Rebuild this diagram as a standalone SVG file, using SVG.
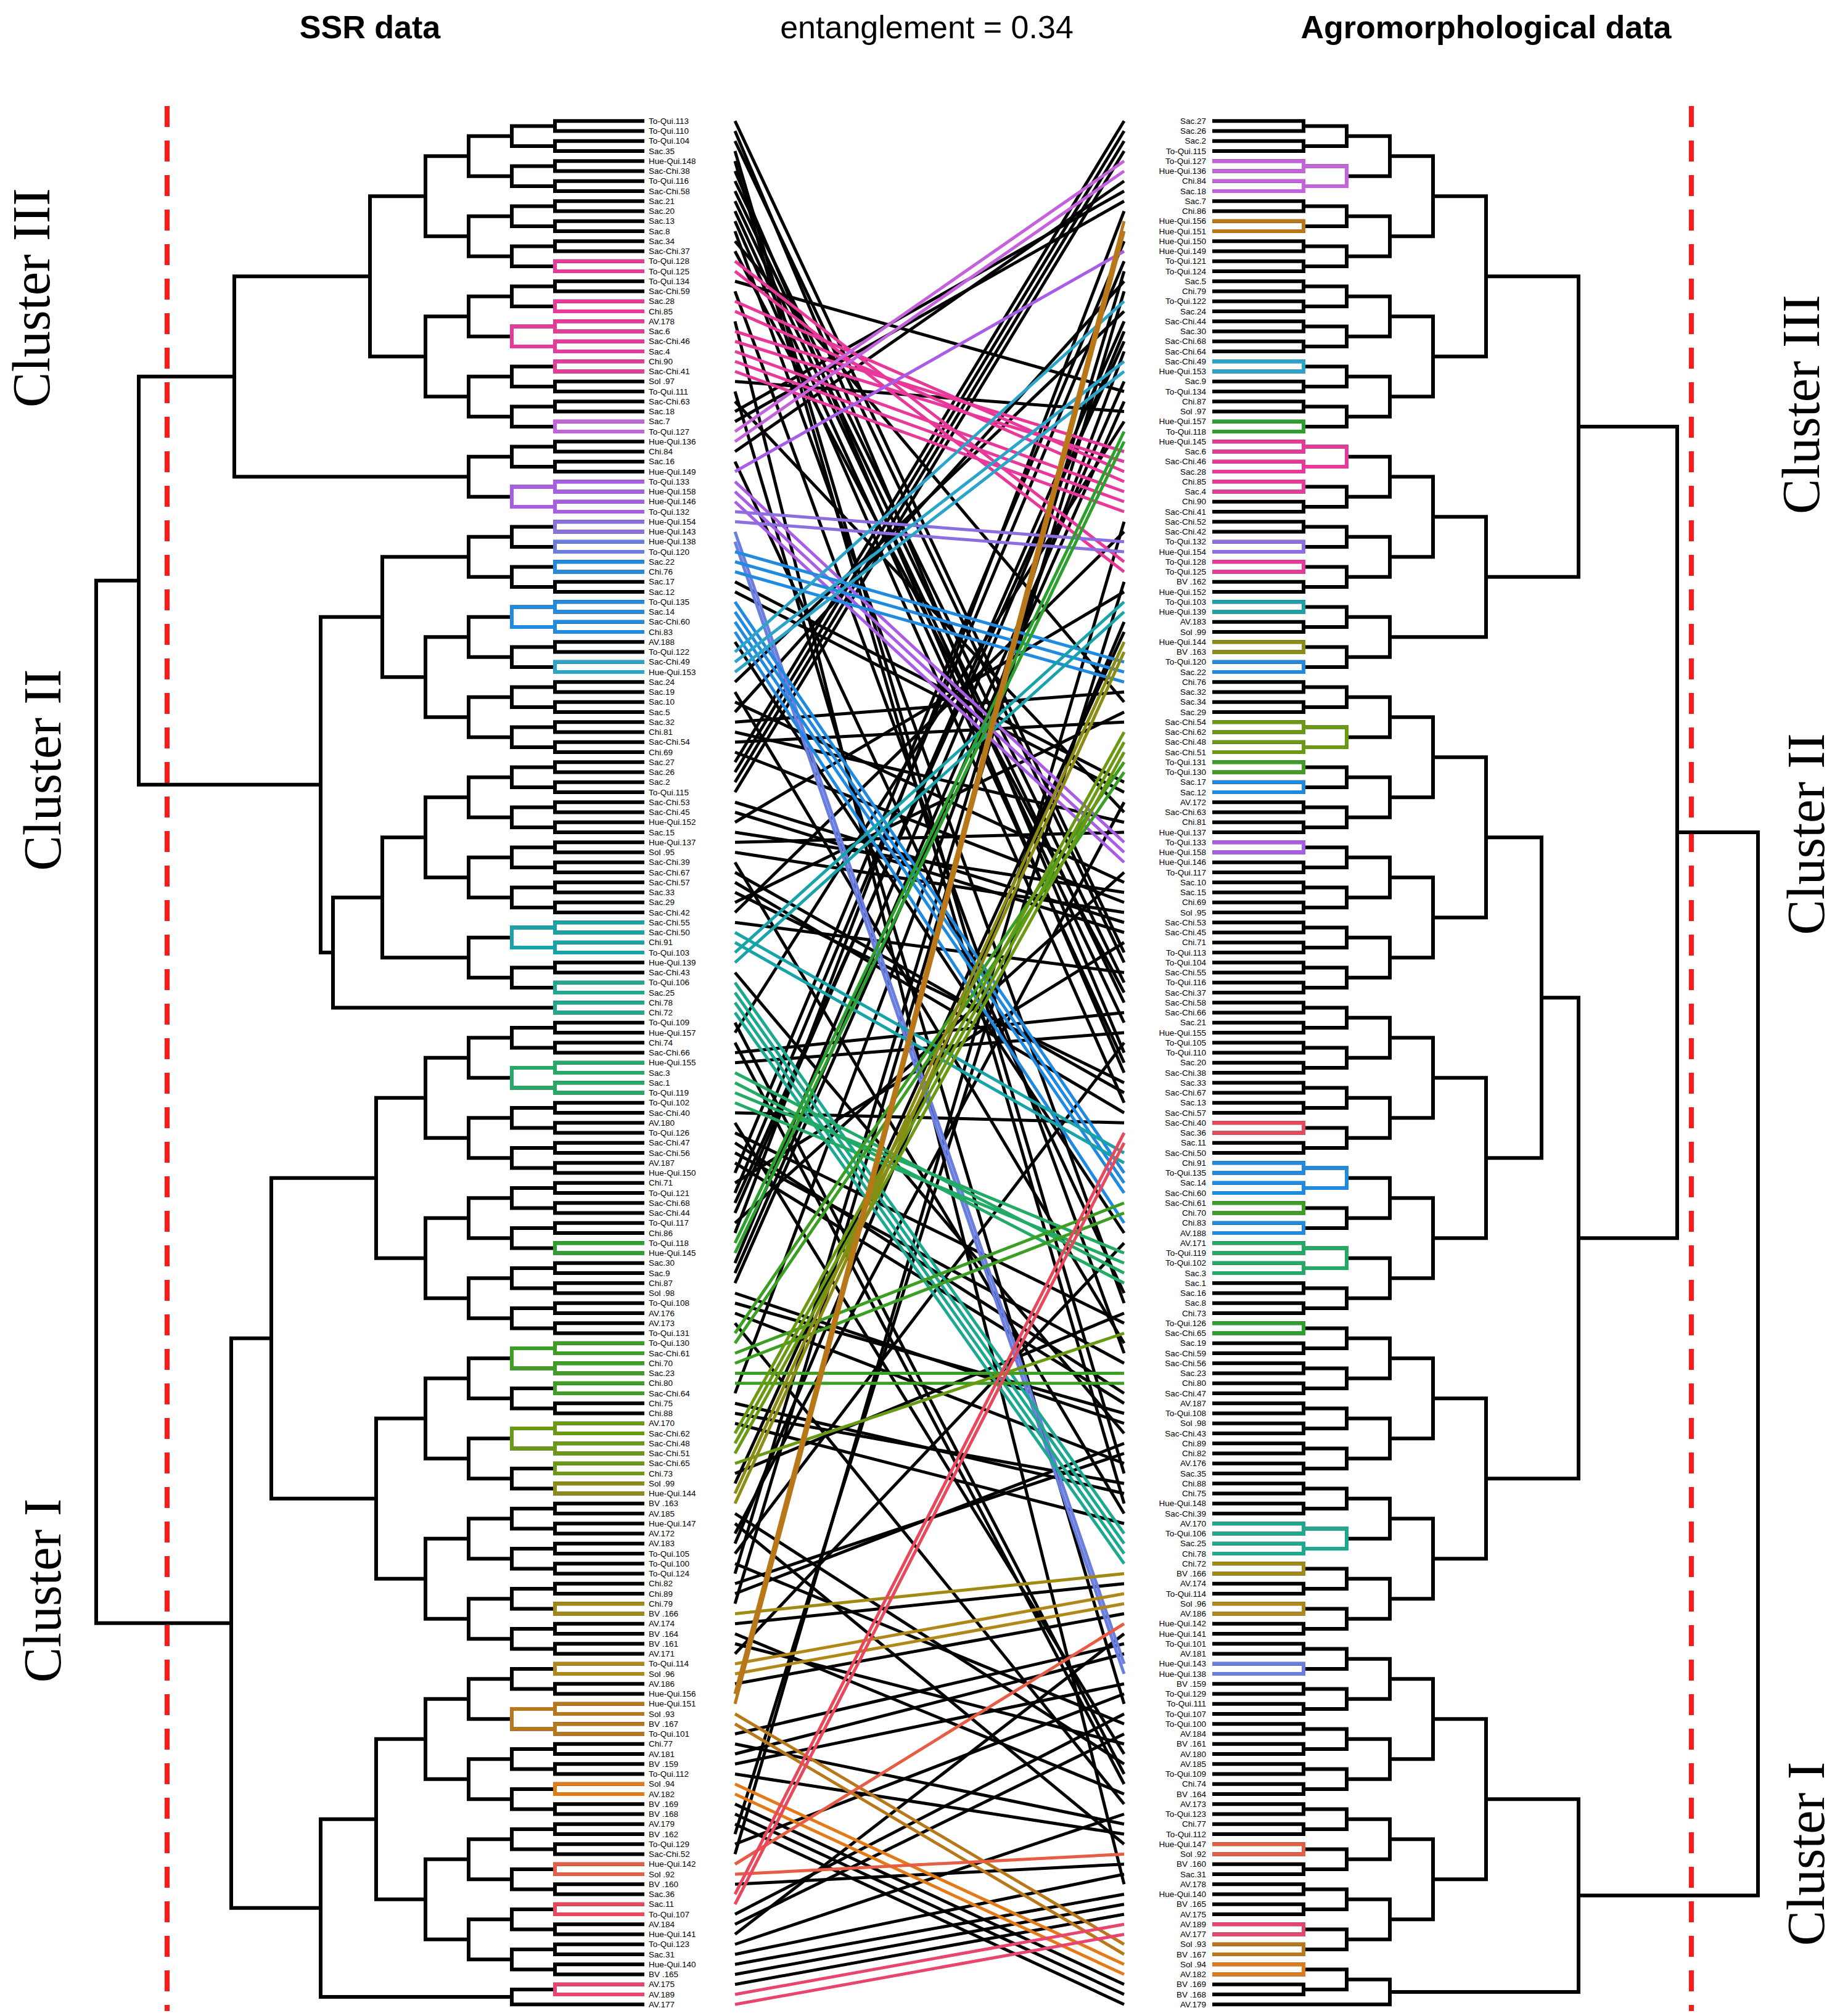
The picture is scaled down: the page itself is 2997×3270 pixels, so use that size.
<svg xmlns="http://www.w3.org/2000/svg" xmlns:xlink="http://www.w3.org/1999/xlink" width="2997" height="3270" viewBox="0 0 2997 3270">
<style>
.tree{stroke:#000;fill:none;stroke-width:6}
path{fill:none}
.lab{font-family:"Liberation Sans",Arial,sans-serif;font-size:13.5px;fill:#000}
.ttl{font-family:"Liberation Sans",Arial,sans-serif;font-size:52px;fill:#000;text-anchor:middle}
.cl{font-family:"Liberation Serif","Times New Roman",serif;font-size:86px;fill:#000;text-anchor:middle}
.dash{stroke:#ff1a1a;stroke-width:8;stroke-dasharray:34 22}
.con line{stroke-width:5;vector-effect:non-scaling-stroke}
.k{stroke:#000}
.a{stroke:#e8389a}.b{stroke:#c461dc}.c{stroke:#a95ce6}.d{stroke:#8b6fe0}.e{stroke:#6a7ee0}.f{stroke:#1f8ae0}.g{stroke:#2aa4c8}.h{stroke:#17a3a8}.i{stroke:#1ea890}.j{stroke:#22aa66}.l{stroke:#2ca02c}.m{stroke:#3c9e22}.n{stroke:#6a9a14}.o{stroke:#8c8c14}.p{stroke:#a08a14}.q{stroke:#b0881a}.r{stroke:#b8781a}.s{stroke:#e27a18}.t{stroke:#e65c44}.u{stroke:#e8485c}.v{stroke:#e84470}
</style>
<defs>
<g id="lP"><path d="M1045 0H900V16.25H1045"/></g>
<g id="lQ"><use href="#lP"/><use href="#lP" y="32.5"/><path d="M900 8.125H830V40.625H900"/></g>
<g id="lR"><use href="#lQ"/><use href="#lQ" y="65"/><path d="M830 24.375H760V89.375H830"/></g>
<g id="lS"><use href="#lR"/><use href="#lR" y="130"/><path d="M760 56.875H690V186.875H760"/></g>
<g id="rP"><path d="M1966 0H2114V16.25H1966"/></g>
<g id="rQ"><use href="#rP"/><use href="#rP" y="32.5"/><path d="M2114 8.125H2184V40.625H2114"/></g>
<g id="rR"><use href="#rQ"/><use href="#rQ" y="65"/><path d="M2184 24.375H2254V89.375H2184"/></g>
<g id="rS"><use href="#rR"/><use href="#rR" y="130"/><path d="M2254 56.875H2324V186.875H2254"/></g>
</defs>
<rect width="2997" height="3270" fill="#fff"/>
<text class="ttl" x="600" y="62" font-weight="bold">SSR data</text>
<text class="ttl" x="1503" y="62">entanglement = 0.34</text>
<text class="ttl" x="2410" y="62" font-weight="bold">Agromorphological data</text>
<line class="dash" x1="271" y1="172" x2="271" y2="3262"/>
<line class="dash" x1="2743" y1="172" x2="2743" y2="3262"/>
<text class="cl" transform="translate(80,483) rotate(-90)">Cluster III</text>
<text class="cl" transform="translate(98,1249) rotate(-90)">Cluster II</text>
<text class="cl" transform="translate(98,2580) rotate(-90)">Cluster I</text>
<text class="cl" transform="translate(2950,656) rotate(-90)">Cluster III</text>
<text class="cl" transform="translate(2958,1353) rotate(-90)">Cluster II</text>
<text class="cl" transform="translate(2958,3007) rotate(-90)">Cluster I</text>

<g id="left-tree" class="tree">
<use href="#lS" y="196.25"/><use href="#lS" y="456.25"/><use href="#lR" y="716.25"/>
<use href="#lR" y="846.25"/><use href="#lS" y="976.25"/><use href="#lS" y="1236.25"/><use href="#lR" y="1496.25"/><use href="#lP" y="1626.25"/>
<use href="#lS" y="1658.75"/><use href="#lS" y="1918.75"/><use href="#lS" y="2178.75"/><use href="#lS" y="2438.75"/><use href="#lS" y="2698.75"/><use href="#lS" y="2958.75"/><use href="#lP" y="3218.75"/>
<path d="M1045 3251.25H900M900 3226.875H830V3251.25H900"/>
<path d="M690 318.125H600V578.125H690"/>
<path d="M600 448.125H380V773.125H760"/>
<path d="M760 903.125H620V1098.125H690"/>
<path d="M690 1358.125H620V1553.125H760"/>
<path d="M620 1455.625H540V1634.375H900"/>
<path d="M620 1000.625H520V1545H540"/>
<path d="M380 610.625H225V1272.8H520"/>
<path d="M690 1780.625H610V2040.625H690"/>
<path d="M690 2300.625H610V2560.625H690"/>
<path d="M610 1910.625H440V2430.625H610"/>
<path d="M690 2820.625H610V3080.625H690"/>
<path d="M610 2950.625H520V3239.06H830"/>
<path d="M440 2170.625H375V3094.8H520"/>
<path d="M225 941.7H156V2632.7H375"/>
<use class="a" href="#lP" y="423.75"/><use class="a" href="#lP" y="488.75"/><use class="a" href="#lQ" y="521.25"/><use class="a" href="#lP" y="586.25"/>
<use class="b" href="#lP" y="683.75"/><use class="c" href="#lQ" y="781.25"/>
<use class="d" href="#lP" y="846.25"/><use class="e" href="#lP" y="878.75"/>
<use class="f" href="#lP" y="911.25"/><use class="f" href="#lQ" y="976.25"/><use class="g" href="#lP" y="1073.75"/>
<use class="h" href="#lQ" y="1496.25"/><use class="i" href="#lP" y="1593.75"/><use class="i" href="#lP" y="1626.25"/>
<use class="j" href="#lQ" y="1723.75"/><use class="l" href="#lP" y="2016.25"/>
<use class="m" href="#lQ" y="2178.75"/><use class="m" href="#lP" y="2243.75"/>
<use class="n" href="#lQ" y="2308.75"/><use class="n" href="#lP" y="2373.75"/><use class="o" href="#lP" y="2406.25"/>
<use class="p" href="#lP" y="2601.25"/><use class="q" href="#lP" y="2698.75"/><use class="r" href="#lQ" y="2763.75"/>
<use class="s" href="#lP" y="2893.75"/><use class="t" href="#lP" y="3023.75"/><use class="u" href="#lP" y="3088.75"/>
<use class="v" href="#lP" y="3218.75"/>
</g>

<g id="right-tree" class="tree">
<use href="#rS" y="196.25"/><use href="#rS" y="456.25"/><use href="#rS" y="716.25"/><use href="#rR" y="976.25"/>
<use href="#rS" y="1106.25"/><use href="#rS" y="1366.25"/><use href="#rS" y="1626.25"/><use href="#rS" y="1886.25"/><use href="#rS" y="2146.25"/><use href="#rS" y="2406.25"/>
<use href="#rS" y="2666.25"/><use href="#rS" y="2926.25"/><use href="#rQ" y="3186.25"/>
<path d="M2324 318.125H2410V578.125H2324"/>
<path d="M2324 838.125H2410V1033.125H2254"/>
<path d="M2410 448.125H2560V935.625H2410"/>
<path d="M2324 1228.125H2410V1488.125H2324"/>
<path d="M2324 1748.125H2410V2008.125H2324"/>
<path d="M2324 2268.125H2410V2528.125H2324"/>
<path d="M2410 1358.125H2500V1878.125H2410"/>
<path d="M2500 1618.125H2560V2398.125H2410"/>
<path d="M2560 691.875H2720V2008.125H2560"/>
<path d="M2184 3210.625H2254V3251.25H1966"/>
<path d="M2324 2788.125H2410V3048.125H2324"/>
<path d="M2410 2918.125H2560V3230.94H2254"/>
<path d="M2720 1350H2851V3074.5H2560"/>
<use class="b" href="#rQ" y="261.25"/><use class="r" href="#rP" y="358.75"/><use class="g" href="#rP" y="586.25"/><use class="l" href="#rP" y="683.75"/>
<use class="a" href="#rQ" y="716.25"/><use class="a" href="#rP" y="781.25"/><use class="d" href="#rP" y="878.75"/><use class="a" href="#rP" y="911.25"/>
<use class="h" href="#rP" y="976.25"/><use class="o" href="#rP" y="1041.25"/><use class="f" href="#rP" y="1073.75"/>
<use class="n" href="#rQ" y="1171.25"/><use class="m" href="#rP" y="1236.25"/><use class="f" href="#rP" y="1268.75"/><use class="c" href="#rP" y="1366.25"/>
<use class="u" href="#rP" y="1821.25"/><use class="f" href="#rQ" y="1886.25"/><use class="m" href="#rP" y="1951.25"/><use class="f" href="#rP" y="1983.75"/>
<use class="j" href="#rQ" y="2016.25"/><use class="l" href="#rP" y="2146.25"/><use class="i" href="#rQ" y="2471.25"/><use class="p" href="#rP" y="2536.25"/><use class="q" href="#rP" y="2601.25"/>
<use class="e" href="#rP" y="2698.75"/><use class="t" href="#rP" y="2991.25"/><use class="v" href="#rP" y="3121.25"/><use class="r" href="#rP" y="3153.75"/><use class="s" href="#rP" y="3186.25"/>
</g>

<g id="left-labels"><text class="lab" x="1052" y="200.75"><tspan x="1052" dy="0">To-Qui.113</tspan><tspan x="1052" dy="16.25">To-Qui.110</tspan><tspan x="1052" dy="16.25">To-Qui.104</tspan><tspan x="1052" dy="16.25">Sac.35</tspan><tspan x="1052" dy="16.25">Hue-Qui.148</tspan><tspan x="1052" dy="16.25">Sac-Chi.38</tspan><tspan x="1052" dy="16.25">To-Qui.116</tspan><tspan x="1052" dy="16.25">Sac-Chi.58</tspan><tspan x="1052" dy="16.25">Sac.21</tspan><tspan x="1052" dy="16.25">Sac.20</tspan><tspan x="1052" dy="16.25">Sac.13</tspan><tspan x="1052" dy="16.25">Sac.8</tspan><tspan x="1052" dy="16.25">Sac.34</tspan><tspan x="1052" dy="16.25">Sac-Chi.37</tspan><tspan x="1052" dy="16.25">To-Qui.128</tspan><tspan x="1052" dy="16.25">To-Qui.125</tspan><tspan x="1052" dy="16.25">To-Qui.134</tspan><tspan x="1052" dy="16.25">Sac-Chi.59</tspan><tspan x="1052" dy="16.25">Sac.28</tspan><tspan x="1052" dy="16.25">Chi.85</tspan><tspan x="1052" dy="16.25">AV.178</tspan><tspan x="1052" dy="16.25">Sac.6</tspan><tspan x="1052" dy="16.25">Sac-Chi.46</tspan><tspan x="1052" dy="16.25">Sac.4</tspan><tspan x="1052" dy="16.25">Chi.90</tspan><tspan x="1052" dy="16.25">Sac-Chi.41</tspan><tspan x="1052" dy="16.25">Sol .97</tspan><tspan x="1052" dy="16.25">To-Qui.111</tspan><tspan x="1052" dy="16.25">Sac-Chi.63</tspan><tspan x="1052" dy="16.25">Sac.18</tspan><tspan x="1052" dy="16.25">Sac.7</tspan><tspan x="1052" dy="16.25">To-Qui.127</tspan><tspan x="1052" dy="16.25">Hue-Qui.136</tspan><tspan x="1052" dy="16.25">Chi.84</tspan><tspan x="1052" dy="16.25">Sac.16</tspan><tspan x="1052" dy="16.25">Hue-Qui.149</tspan><tspan x="1052" dy="16.25">To-Qui.133</tspan><tspan x="1052" dy="16.25">Hue-Qui.158</tspan><tspan x="1052" dy="16.25">Hue-Qui.146</tspan><tspan x="1052" dy="16.25">To-Qui.132</tspan><tspan x="1052" dy="16.25">Hue-Qui.154</tspan><tspan x="1052" dy="16.25">Hue-Qui.143</tspan><tspan x="1052" dy="16.25">Hue-Qui.138</tspan><tspan x="1052" dy="16.25">To-Qui.120</tspan><tspan x="1052" dy="16.25">Sac.22</tspan><tspan x="1052" dy="16.25">Chi.76</tspan><tspan x="1052" dy="16.25">Sac.17</tspan><tspan x="1052" dy="16.25">Sac.12</tspan><tspan x="1052" dy="16.25">To-Qui.135</tspan><tspan x="1052" dy="16.25">Sac.14</tspan><tspan x="1052" dy="16.25">Sac-Chi.60</tspan><tspan x="1052" dy="16.25">Chi.83</tspan><tspan x="1052" dy="16.25">AV.188</tspan><tspan x="1052" dy="16.25">To-Qui.122</tspan><tspan x="1052" dy="16.25">Sac-Chi.49</tspan><tspan x="1052" dy="16.25">Hue-Qui.153</tspan><tspan x="1052" dy="16.25">Sac.24</tspan><tspan x="1052" dy="16.25">Sac.19</tspan><tspan x="1052" dy="16.25">Sac.10</tspan><tspan x="1052" dy="16.25">Sac.5</tspan><tspan x="1052" dy="16.25">Sac.32</tspan><tspan x="1052" dy="16.25">Chi.81</tspan><tspan x="1052" dy="16.25">Sac-Chi.54</tspan><tspan x="1052" dy="16.25">Chi.69</tspan><tspan x="1052" dy="16.25">Sac.27</tspan><tspan x="1052" dy="16.25">Sac.26</tspan><tspan x="1052" dy="16.25">Sac.2</tspan><tspan x="1052" dy="16.25">To-Qui.115</tspan><tspan x="1052" dy="16.25">Sac-Chi.53</tspan><tspan x="1052" dy="16.25">Sac-Chi.45</tspan><tspan x="1052" dy="16.25">Hue-Qui.152</tspan><tspan x="1052" dy="16.25">Sac.15</tspan><tspan x="1052" dy="16.25">Hue-Qui.137</tspan><tspan x="1052" dy="16.25">Sol .95</tspan><tspan x="1052" dy="16.25">Sac-Chi.39</tspan><tspan x="1052" dy="16.25">Sac-Chi.67</tspan><tspan x="1052" dy="16.25">Sac-Chi.57</tspan><tspan x="1052" dy="16.25">Sac.33</tspan><tspan x="1052" dy="16.25">Sac.29</tspan><tspan x="1052" dy="16.25">Sac-Chi.42</tspan><tspan x="1052" dy="16.25">Sac-Chi.55</tspan><tspan x="1052" dy="16.25">Sac-Chi.50</tspan><tspan x="1052" dy="16.25">Chi.91</tspan><tspan x="1052" dy="16.25">To-Qui.103</tspan><tspan x="1052" dy="16.25">Hue-Qui.139</tspan><tspan x="1052" dy="16.25">Sac-Chi.43</tspan><tspan x="1052" dy="16.25">To-Qui.106</tspan><tspan x="1052" dy="16.25">Sac.25</tspan><tspan x="1052" dy="16.25">Chi.78</tspan><tspan x="1052" dy="16.25">Chi.72</tspan><tspan x="1052" dy="16.25">To-Qui.109</tspan><tspan x="1052" dy="16.25">Hue-Qui.157</tspan><tspan x="1052" dy="16.25">Chi.74</tspan><tspan x="1052" dy="16.25">Sac-Chi.66</tspan><tspan x="1052" dy="16.25">Hue-Qui.155</tspan><tspan x="1052" dy="16.25">Sac.3</tspan><tspan x="1052" dy="16.25">Sac.1</tspan><tspan x="1052" dy="16.25">To-Qui.119</tspan><tspan x="1052" dy="16.25">To-Qui.102</tspan><tspan x="1052" dy="16.25">Sac-Chi.40</tspan><tspan x="1052" dy="16.25">AV.180</tspan><tspan x="1052" dy="16.25">To-Qui.126</tspan><tspan x="1052" dy="16.25">Sac-Chi.47</tspan><tspan x="1052" dy="16.25">Sac-Chi.56</tspan><tspan x="1052" dy="16.25">AV.187</tspan><tspan x="1052" dy="16.25">Hue-Qui.150</tspan><tspan x="1052" dy="16.25">Chi.71</tspan><tspan x="1052" dy="16.25">To-Qui.121</tspan><tspan x="1052" dy="16.25">Sac-Chi.68</tspan><tspan x="1052" dy="16.25">Sac-Chi.44</tspan><tspan x="1052" dy="16.25">To-Qui.117</tspan><tspan x="1052" dy="16.25">Chi.86</tspan><tspan x="1052" dy="16.25">To-Qui.118</tspan><tspan x="1052" dy="16.25">Hue-Qui.145</tspan><tspan x="1052" dy="16.25">Sac.30</tspan><tspan x="1052" dy="16.25">Sac.9</tspan><tspan x="1052" dy="16.25">Chi.87</tspan><tspan x="1052" dy="16.25">Sol .98</tspan><tspan x="1052" dy="16.25">To-Qui.108</tspan><tspan x="1052" dy="16.25">AV.176</tspan><tspan x="1052" dy="16.25">AV.173</tspan><tspan x="1052" dy="16.25">To-Qui.131</tspan><tspan x="1052" dy="16.25">To-Qui.130</tspan><tspan x="1052" dy="16.25">Sac-Chi.61</tspan><tspan x="1052" dy="16.25">Chi.70</tspan><tspan x="1052" dy="16.25">Sac.23</tspan><tspan x="1052" dy="16.25">Chi.80</tspan><tspan x="1052" dy="16.25">Sac-Chi.64</tspan><tspan x="1052" dy="16.25">Chi.75</tspan><tspan x="1052" dy="16.25">Chi.88</tspan><tspan x="1052" dy="16.25">AV.170</tspan><tspan x="1052" dy="16.25">Sac-Chi.62</tspan><tspan x="1052" dy="16.25">Sac-Chi.48</tspan><tspan x="1052" dy="16.25">Sac-Chi.51</tspan><tspan x="1052" dy="16.25">Sac-Chi.65</tspan><tspan x="1052" dy="16.25">Chi.73</tspan><tspan x="1052" dy="16.25">Sol .99</tspan><tspan x="1052" dy="16.25">Hue-Qui.144</tspan><tspan x="1052" dy="16.25">BV .163</tspan><tspan x="1052" dy="16.25">AV.185</tspan><tspan x="1052" dy="16.25">Hue-Qui.147</tspan><tspan x="1052" dy="16.25">AV.172</tspan><tspan x="1052" dy="16.25">AV.183</tspan><tspan x="1052" dy="16.25">To-Qui.105</tspan><tspan x="1052" dy="16.25">To-Qui.100</tspan><tspan x="1052" dy="16.25">To-Qui.124</tspan><tspan x="1052" dy="16.25">Chi.82</tspan><tspan x="1052" dy="16.25">Chi.89</tspan><tspan x="1052" dy="16.25">Chi.79</tspan><tspan x="1052" dy="16.25">BV .166</tspan><tspan x="1052" dy="16.25">AV.174</tspan><tspan x="1052" dy="16.25">BV .164</tspan><tspan x="1052" dy="16.25">BV .161</tspan><tspan x="1052" dy="16.25">AV.171</tspan><tspan x="1052" dy="16.25">To-Qui.114</tspan><tspan x="1052" dy="16.25">Sol .96</tspan><tspan x="1052" dy="16.25">AV.186</tspan><tspan x="1052" dy="16.25">Hue-Qui.156</tspan><tspan x="1052" dy="16.25">Hue-Qui.151</tspan><tspan x="1052" dy="16.25">Sol .93</tspan><tspan x="1052" dy="16.25">BV .167</tspan><tspan x="1052" dy="16.25">To-Qui.101</tspan><tspan x="1052" dy="16.25">Chi.77</tspan><tspan x="1052" dy="16.25">AV.181</tspan><tspan x="1052" dy="16.25">BV .159</tspan><tspan x="1052" dy="16.25">To-Qui.112</tspan><tspan x="1052" dy="16.25">Sol .94</tspan><tspan x="1052" dy="16.25">AV.182</tspan><tspan x="1052" dy="16.25">BV .169</tspan><tspan x="1052" dy="16.25">BV .168</tspan><tspan x="1052" dy="16.25">AV.179</tspan><tspan x="1052" dy="16.25">BV .162</tspan><tspan x="1052" dy="16.25">To-Qui.129</tspan><tspan x="1052" dy="16.25">Sac-Chi.52</tspan><tspan x="1052" dy="16.25">Hue-Qui.142</tspan><tspan x="1052" dy="16.25">Sol .92</tspan><tspan x="1052" dy="16.25">BV .160</tspan><tspan x="1052" dy="16.25">Sac.36</tspan><tspan x="1052" dy="16.25">Sac.11</tspan><tspan x="1052" dy="16.25">To-Qui.107</tspan><tspan x="1052" dy="16.25">AV.184</tspan><tspan x="1052" dy="16.25">Hue-Qui.141</tspan><tspan x="1052" dy="16.25">To-Qui.123</tspan><tspan x="1052" dy="16.25">Sac.31</tspan><tspan x="1052" dy="16.25">Hue-Qui.140</tspan><tspan x="1052" dy="16.25">BV .165</tspan><tspan x="1052" dy="16.25">AV.175</tspan><tspan x="1052" dy="16.25">AV.189</tspan><tspan x="1052" dy="16.25">AV.177</tspan></text></g>

<g id="right-labels"><text class="lab" x="1956" y="200.75" text-anchor="end"><tspan x="1956" dy="0">Sac.27</tspan><tspan x="1956" dy="16.25">Sac.26</tspan><tspan x="1956" dy="16.25">Sac.2</tspan><tspan x="1956" dy="16.25">To-Qui.115</tspan><tspan x="1956" dy="16.25">To-Qui.127</tspan><tspan x="1956" dy="16.25">Hue-Qui.136</tspan><tspan x="1956" dy="16.25">Chi.84</tspan><tspan x="1956" dy="16.25">Sac.18</tspan><tspan x="1956" dy="16.25">Sac.7</tspan><tspan x="1956" dy="16.25">Chi.86</tspan><tspan x="1956" dy="16.25">Hue-Qui.156</tspan><tspan x="1956" dy="16.25">Hue-Qui.151</tspan><tspan x="1956" dy="16.25">Hue-Qui.150</tspan><tspan x="1956" dy="16.25">Hue-Qui.149</tspan><tspan x="1956" dy="16.25">To-Qui.121</tspan><tspan x="1956" dy="16.25">To-Qui.124</tspan><tspan x="1956" dy="16.25">Sac.5</tspan><tspan x="1956" dy="16.25">Chi.79</tspan><tspan x="1956" dy="16.25">To-Qui.122</tspan><tspan x="1956" dy="16.25">Sac.24</tspan><tspan x="1956" dy="16.25">Sac-Chi.44</tspan><tspan x="1956" dy="16.25">Sac.30</tspan><tspan x="1956" dy="16.25">Sac-Chi.68</tspan><tspan x="1956" dy="16.25">Sac-Chi.64</tspan><tspan x="1956" dy="16.25">Sac-Chi.49</tspan><tspan x="1956" dy="16.25">Hue-Qui.153</tspan><tspan x="1956" dy="16.25">Sac.9</tspan><tspan x="1956" dy="16.25">To-Qui.134</tspan><tspan x="1956" dy="16.25">Chi.87</tspan><tspan x="1956" dy="16.25">Sol .97</tspan><tspan x="1956" dy="16.25">Hue-Qui.157</tspan><tspan x="1956" dy="16.25">To-Qui.118</tspan><tspan x="1956" dy="16.25">Hue-Qui.145</tspan><tspan x="1956" dy="16.25">Sac.6</tspan><tspan x="1956" dy="16.25">Sac-Chi.46</tspan><tspan x="1956" dy="16.25">Sac.28</tspan><tspan x="1956" dy="16.25">Chi.85</tspan><tspan x="1956" dy="16.25">Sac.4</tspan><tspan x="1956" dy="16.25">Chi.90</tspan><tspan x="1956" dy="16.25">Sac-Chi.41</tspan><tspan x="1956" dy="16.25">Sac-Chi.52</tspan><tspan x="1956" dy="16.25">Sac-Chi.42</tspan><tspan x="1956" dy="16.25">To-Qui.132</tspan><tspan x="1956" dy="16.25">Hue-Qui.154</tspan><tspan x="1956" dy="16.25">To-Qui.128</tspan><tspan x="1956" dy="16.25">To-Qui.125</tspan><tspan x="1956" dy="16.25">BV .162</tspan><tspan x="1956" dy="16.25">Hue-Qui.152</tspan><tspan x="1956" dy="16.25">To-Qui.103</tspan><tspan x="1956" dy="16.25">Hue-Qui.139</tspan><tspan x="1956" dy="16.25">AV.183</tspan><tspan x="1956" dy="16.25">Sol .99</tspan><tspan x="1956" dy="16.25">Hue-Qui.144</tspan><tspan x="1956" dy="16.25">BV .163</tspan><tspan x="1956" dy="16.25">To-Qui.120</tspan><tspan x="1956" dy="16.25">Sac.22</tspan><tspan x="1956" dy="16.25">Chi.76</tspan><tspan x="1956" dy="16.25">Sac.32</tspan><tspan x="1956" dy="16.25">Sac.34</tspan><tspan x="1956" dy="16.25">Sac.29</tspan><tspan x="1956" dy="16.25">Sac-Chi.54</tspan><tspan x="1956" dy="16.25">Sac-Chi.62</tspan><tspan x="1956" dy="16.25">Sac-Chi.48</tspan><tspan x="1956" dy="16.25">Sac-Chi.51</tspan><tspan x="1956" dy="16.25">To-Qui.131</tspan><tspan x="1956" dy="16.25">To-Qui.130</tspan><tspan x="1956" dy="16.25">Sac.17</tspan><tspan x="1956" dy="16.25">Sac.12</tspan><tspan x="1956" dy="16.25">AV.172</tspan><tspan x="1956" dy="16.25">Sac-Chi.63</tspan><tspan x="1956" dy="16.25">Chi.81</tspan><tspan x="1956" dy="16.25">Hue-Qui.137</tspan><tspan x="1956" dy="16.25">To-Qui.133</tspan><tspan x="1956" dy="16.25">Hue-Qui.158</tspan><tspan x="1956" dy="16.25">Hue-Qui.146</tspan><tspan x="1956" dy="16.25">To-Qui.117</tspan><tspan x="1956" dy="16.25">Sac.10</tspan><tspan x="1956" dy="16.25">Sac.15</tspan><tspan x="1956" dy="16.25">Chi.69</tspan><tspan x="1956" dy="16.25">Sol .95</tspan><tspan x="1956" dy="16.25">Sac-Chi.53</tspan><tspan x="1956" dy="16.25">Sac-Chi.45</tspan><tspan x="1956" dy="16.25">Chi.71</tspan><tspan x="1956" dy="16.25">To-Qui.113</tspan><tspan x="1956" dy="16.25">To-Qui.104</tspan><tspan x="1956" dy="16.25">Sac-Chi.55</tspan><tspan x="1956" dy="16.25">To-Qui.116</tspan><tspan x="1956" dy="16.25">Sac-Chi.37</tspan><tspan x="1956" dy="16.25">Sac-Chi.58</tspan><tspan x="1956" dy="16.25">Sac-Chi.66</tspan><tspan x="1956" dy="16.25">Sac.21</tspan><tspan x="1956" dy="16.25">Hue-Qui.155</tspan><tspan x="1956" dy="16.25">To-Qui.105</tspan><tspan x="1956" dy="16.25">To-Qui.110</tspan><tspan x="1956" dy="16.25">Sac.20</tspan><tspan x="1956" dy="16.25">Sac-Chi.38</tspan><tspan x="1956" dy="16.25">Sac.33</tspan><tspan x="1956" dy="16.25">Sac-Chi.67</tspan><tspan x="1956" dy="16.25">Sac.13</tspan><tspan x="1956" dy="16.25">Sac-Chi.57</tspan><tspan x="1956" dy="16.25">Sac-Chi.40</tspan><tspan x="1956" dy="16.25">Sac.36</tspan><tspan x="1956" dy="16.25">Sac.11</tspan><tspan x="1956" dy="16.25">Sac-Chi.50</tspan><tspan x="1956" dy="16.25">Chi.91</tspan><tspan x="1956" dy="16.25">To-Qui.135</tspan><tspan x="1956" dy="16.25">Sac.14</tspan><tspan x="1956" dy="16.25">Sac-Chi.60</tspan><tspan x="1956" dy="16.25">Sac-Chi.61</tspan><tspan x="1956" dy="16.25">Chi.70</tspan><tspan x="1956" dy="16.25">Chi.83</tspan><tspan x="1956" dy="16.25">AV.188</tspan><tspan x="1956" dy="16.25">AV.171</tspan><tspan x="1956" dy="16.25">To-Qui.119</tspan><tspan x="1956" dy="16.25">To-Qui.102</tspan><tspan x="1956" dy="16.25">Sac.3</tspan><tspan x="1956" dy="16.25">Sac.1</tspan><tspan x="1956" dy="16.25">Sac.16</tspan><tspan x="1956" dy="16.25">Sac.8</tspan><tspan x="1956" dy="16.25">Chi.73</tspan><tspan x="1956" dy="16.25">To-Qui.126</tspan><tspan x="1956" dy="16.25">Sac-Chi.65</tspan><tspan x="1956" dy="16.25">Sac.19</tspan><tspan x="1956" dy="16.25">Sac-Chi.59</tspan><tspan x="1956" dy="16.25">Sac-Chi.56</tspan><tspan x="1956" dy="16.25">Sac.23</tspan><tspan x="1956" dy="16.25">Chi.80</tspan><tspan x="1956" dy="16.25">Sac-Chi.47</tspan><tspan x="1956" dy="16.25">AV.187</tspan><tspan x="1956" dy="16.25">To-Qui.108</tspan><tspan x="1956" dy="16.25">Sol .98</tspan><tspan x="1956" dy="16.25">Sac-Chi.43</tspan><tspan x="1956" dy="16.25">Chi.89</tspan><tspan x="1956" dy="16.25">Chi.82</tspan><tspan x="1956" dy="16.25">AV.176</tspan><tspan x="1956" dy="16.25">Sac.35</tspan><tspan x="1956" dy="16.25">Chi.88</tspan><tspan x="1956" dy="16.25">Chi.75</tspan><tspan x="1956" dy="16.25">Hue-Qui.148</tspan><tspan x="1956" dy="16.25">Sac-Chi.39</tspan><tspan x="1956" dy="16.25">AV.170</tspan><tspan x="1956" dy="16.25">To-Qui.106</tspan><tspan x="1956" dy="16.25">Sac.25</tspan><tspan x="1956" dy="16.25">Chi.78</tspan><tspan x="1956" dy="16.25">Chi.72</tspan><tspan x="1956" dy="16.25">BV .166</tspan><tspan x="1956" dy="16.25">AV.174</tspan><tspan x="1956" dy="16.25">To-Qui.114</tspan><tspan x="1956" dy="16.25">Sol .96</tspan><tspan x="1956" dy="16.25">AV.186</tspan><tspan x="1956" dy="16.25">Hue-Qui.142</tspan><tspan x="1956" dy="16.25">Hue-Qui.141</tspan><tspan x="1956" dy="16.25">To-Qui.101</tspan><tspan x="1956" dy="16.25">AV.181</tspan><tspan x="1956" dy="16.25">Hue-Qui.143</tspan><tspan x="1956" dy="16.25">Hue-Qui.138</tspan><tspan x="1956" dy="16.25">BV .159</tspan><tspan x="1956" dy="16.25">To-Qui.129</tspan><tspan x="1956" dy="16.25">To-Qui.111</tspan><tspan x="1956" dy="16.25">To-Qui.107</tspan><tspan x="1956" dy="16.25">To-Qui.100</tspan><tspan x="1956" dy="16.25">AV.184</tspan><tspan x="1956" dy="16.25">BV .161</tspan><tspan x="1956" dy="16.25">AV.180</tspan><tspan x="1956" dy="16.25">AV.185</tspan><tspan x="1956" dy="16.25">To-Qui.109</tspan><tspan x="1956" dy="16.25">Chi.74</tspan><tspan x="1956" dy="16.25">BV .164</tspan><tspan x="1956" dy="16.25">AV.173</tspan><tspan x="1956" dy="16.25">To-Qui.123</tspan><tspan x="1956" dy="16.25">Chi.77</tspan><tspan x="1956" dy="16.25">To-Qui.112</tspan><tspan x="1956" dy="16.25">Hue-Qui.147</tspan><tspan x="1956" dy="16.25">Sol .92</tspan><tspan x="1956" dy="16.25">BV .160</tspan><tspan x="1956" dy="16.25">Sac.31</tspan><tspan x="1956" dy="16.25">AV.178</tspan><tspan x="1956" dy="16.25">Hue-Qui.140</tspan><tspan x="1956" dy="16.25">BV .165</tspan><tspan x="1956" dy="16.25">AV.175</tspan><tspan x="1956" dy="16.25">AV.189</tspan><tspan x="1956" dy="16.25">AV.177</tspan><tspan x="1956" dy="16.25">Sol .93</tspan><tspan x="1956" dy="16.25">BV .167</tspan><tspan x="1956" dy="16.25">Sol .94</tspan><tspan x="1956" dy="16.25">AV.182</tspan><tspan x="1956" dy="16.25">BV .169</tspan><tspan x="1956" dy="16.25">BV .168</tspan><tspan x="1956" dy="16.25">AV.179</tspan></text></g>

<g id="connectors" class="con" transform="translate(0,180) scale(1,16.25)">
<g class="k">
<line x1="1192" x2="1823" y1="1" y2="84"/><line x1="1192" x2="1823" y1="2" y2="94"/><line x1="1192" x2="1823" y1="3" y2="85"/><line x1="1192" x2="1823" y1="4" y2="136"/><line x1="1192" x2="1823" y1="5" y2="139"/><line x1="1192" x2="1823" y1="6" y2="96"/><line x1="1192" x2="1823" y1="7" y2="87"/><line x1="1192" x2="1823" y1="8" y2="89"/><line x1="1192" x2="1823" y1="9" y2="91"/><line x1="1192" x2="1823" y1="10" y2="95"/>
<line x1="1192" x2="1823" y1="11" y2="99"/><line x1="1192" x2="1823" y1="12" y2="119"/><line x1="1192" x2="1823" y1="13" y2="59"/><line x1="1192" x2="1823" y1="14" y2="88"/><line x1="1192" x2="1823" y1="17" y2="28"/><line x1="1192" x2="1823" y1="18" y2="124"/><line x1="1192" x2="1823" y1="21" y2="177"/><line x1="1192" x2="1823" y1="27" y2="30"/><line x1="1192" x2="1823" y1="28" y2="159"/><line x1="1192" x2="1823" y1="29" y2="70"/>
<line x1="1192" x2="1823" y1="30" y2="8"/><line x1="1192" x2="1823" y1="31" y2="9"/><line x1="1192" x2="1823" y1="34" y2="7"/><line x1="1192" x2="1823" y1="35" y2="118"/><line x1="1192" x2="1823" y1="47" y2="67"/><line x1="1192" x2="1823" y1="48" y2="68"/><line x1="1192" x2="1823" y1="53" y2="112"/><line x1="1192" x2="1823" y1="57" y2="20"/><line x1="1192" x2="1823" y1="58" y2="123"/><line x1="1192" x2="1823" y1="59" y2="77"/>
<line x1="1192" x2="1823" y1="60" y2="17"/><line x1="1192" x2="1823" y1="61" y2="58"/><line x1="1192" x2="1823" y1="62" y2="71"/><line x1="1192" x2="1823" y1="63" y2="61"/><line x1="1192" x2="1823" y1="64" y2="79"/><line x1="1192" x2="1823" y1="65" y2="1"/><line x1="1192" x2="1823" y1="66" y2="2"/><line x1="1192" x2="1823" y1="67" y2="3"/><line x1="1192" x2="1823" y1="68" y2="4"/><line x1="1192" x2="1823" y1="69" y2="81"/>
<line x1="1192" x2="1823" y1="70" y2="82"/><line x1="1192" x2="1823" y1="71" y2="48"/><line x1="1192" x2="1823" y1="72" y2="78"/><line x1="1192" x2="1823" y1="73" y2="72"/><line x1="1192" x2="1823" y1="74" y2="80"/><line x1="1192" x2="1823" y1="75" y2="140"/><line x1="1192" x2="1823" y1="76" y2="98"/><line x1="1192" x2="1823" y1="77" y2="100"/><line x1="1192" x2="1823" y1="78" y2="97"/><line x1="1192" x2="1823" y1="79" y2="60"/>
<line x1="1192" x2="1823" y1="80" y2="42"/><line x1="1192" x2="1823" y1="81" y2="86"/><line x1="1192" x2="1823" y1="86" y2="132"/><line x1="1192" x2="1823" y1="91" y2="166"/><line x1="1192" x2="1823" y1="92" y2="31"/><line x1="1192" x2="1823" y1="93" y2="167"/><line x1="1192" x2="1823" y1="94" y2="90"/><line x1="1192" x2="1823" y1="95" y2="92"/><line x1="1192" x2="1823" y1="100" y2="101"/><line x1="1192" x2="1823" y1="101" y2="164"/>
<line x1="1192" x2="1823" y1="102" y2="121"/><line x1="1192" x2="1823" y1="103" y2="128"/><line x1="1192" x2="1823" y1="104" y2="125"/><line x1="1192" x2="1823" y1="105" y2="129"/><line x1="1192" x2="1823" y1="106" y2="13"/><line x1="1192" x2="1823" y1="107" y2="83"/><line x1="1192" x2="1823" y1="108" y2="15"/><line x1="1192" x2="1823" y1="109" y2="23"/><line x1="1192" x2="1823" y1="110" y2="21"/><line x1="1192" x2="1823" y1="111" y2="76"/>
<line x1="1192" x2="1823" y1="112" y2="10"/><line x1="1192" x2="1823" y1="115" y2="22"/><line x1="1192" x2="1823" y1="116" y2="27"/><line x1="1192" x2="1823" y1="117" y2="29"/><line x1="1192" x2="1823" y1="118" y2="131"/><line x1="1192" x2="1823" y1="119" y2="130"/><line x1="1192" x2="1823" y1="120" y2="135"/><line x1="1192" x2="1823" y1="121" y2="169"/><line x1="1192" x2="1823" y1="128" y2="24"/><line x1="1192" x2="1823" y1="129" y2="138"/>
<line x1="1192" x2="1823" y1="130" y2="137"/><line x1="1192" x2="1823" y1="131" y2="141"/><line x1="1192" x2="1823" y1="136" y2="120"/><line x1="1192" x2="1823" y1="137" y2="52"/><line x1="1192" x2="1823" y1="140" y2="165"/><line x1="1192" x2="1823" y1="141" y2="173"/><line x1="1192" x2="1823" y1="142" y2="69"/><line x1="1192" x2="1823" y1="143" y2="51"/><line x1="1192" x2="1823" y1="144" y2="93"/><line x1="1192" x2="1823" y1="145" y2="161"/>
<line x1="1192" x2="1823" y1="146" y2="16"/><line x1="1192" x2="1823" y1="147" y2="134"/><line x1="1192" x2="1823" y1="148" y2="133"/><line x1="1192" x2="1823" y1="149" y2="18"/><line x1="1192" x2="1823" y1="151" y2="147"/><line x1="1192" x2="1823" y1="152" y2="168"/><line x1="1192" x2="1823" y1="153" y2="163"/><line x1="1192" x2="1823" y1="154" y2="113"/><line x1="1192" x2="1823" y1="157" y2="150"/><line x1="1192" x2="1823" y1="162" y2="153"/>
<line x1="1192" x2="1823" y1="163" y2="171"/><line x1="1192" x2="1823" y1="164" y2="154"/><line x1="1192" x2="1823" y1="165" y2="157"/><line x1="1192" x2="1823" y1="166" y2="172"/><line x1="1192" x2="1823" y1="169" y2="187"/><line x1="1192" x2="1823" y1="170" y2="188"/><line x1="1192" x2="1823" y1="171" y2="189"/><line x1="1192" x2="1823" y1="172" y2="47"/><line x1="1192" x2="1823" y1="173" y2="158"/><line x1="1192" x2="1823" y1="174" y2="41"/>
<line x1="1192" x2="1823" y1="177" y2="175"/><line x1="1192" x2="1823" y1="180" y2="160"/><line x1="1192" x2="1823" y1="181" y2="162"/><line x1="1192" x2="1823" y1="182" y2="152"/><line x1="1192" x2="1823" y1="183" y2="170"/><line x1="1192" x2="1823" y1="184" y2="176"/><line x1="1192" x2="1823" y1="185" y2="178"/><line x1="1192" x2="1823" y1="186" y2="179"/><line x1="1192" x2="1823" y1="187" y2="180"/>
</g>
<line class="a" x1="1192" x2="1823" y1="15" y2="45"/><line class="a" x1="1192" x2="1823" y1="16" y2="46"/><line class="a" x1="1192" x2="1823" y1="19" y2="36"/><line class="a" x1="1192" x2="1823" y1="20" y2="37"/><line class="a" x1="1192" x2="1823" y1="22" y2="34"/><line class="a" x1="1192" x2="1823" y1="23" y2="35"/><line class="a" x1="1192" x2="1823" y1="24" y2="38"/><line class="a" x1="1192" x2="1823" y1="25" y2="39"/><line class="a" x1="1192" x2="1823" y1="26" y2="40"/>
<line class="b" x1="1192" x2="1823" y1="32" y2="5"/><line class="b" x1="1192" x2="1823" y1="33" y2="6"/>
<line class="c" x1="1192" x2="1823" y1="36" y2="14"/><line class="c" x1="1192" x2="1823" y1="37" y2="73"/><line class="c" x1="1192" x2="1823" y1="38" y2="74"/><line class="c" x1="1192" x2="1823" y1="39" y2="75"/>
<line class="d" x1="1192" x2="1823" y1="40" y2="43"/><line class="d" x1="1192" x2="1823" y1="41" y2="44"/><line class="e" x1="1192" x2="1823" y1="42" y2="155"/><line class="e" x1="1192" x2="1823" y1="43" y2="156"/>
<line class="f" x1="1192" x2="1823" y1="44" y2="55"/><line class="f" x1="1192" x2="1823" y1="45" y2="56"/><line class="f" x1="1192" x2="1823" y1="46" y2="57"/><line class="f" x1="1192" x2="1823" y1="49" y2="106"/><line class="f" x1="1192" x2="1823" y1="50" y2="107"/><line class="f" x1="1192" x2="1823" y1="51" y2="108"/><line class="f" x1="1192" x2="1823" y1="52" y2="111"/>
<line class="g" x1="1192" x2="1823" y1="54" y2="19"/><line class="g" x1="1192" x2="1823" y1="55" y2="25"/><line class="g" x1="1192" x2="1823" y1="56" y2="26"/>
<line class="h" x1="1192" x2="1823" y1="82" y2="104"/><line class="h" x1="1192" x2="1823" y1="83" y2="105"/><line class="h" x1="1192" x2="1823" y1="84" y2="49"/><line class="h" x1="1192" x2="1823" y1="85" y2="50"/>
<line class="i" x1="1192" x2="1823" y1="87" y2="142"/><line class="i" x1="1192" x2="1823" y1="88" y2="143"/><line class="i" x1="1192" x2="1823" y1="89" y2="144"/><line class="i" x1="1192" x2="1823" y1="90" y2="145"/>
<line class="j" x1="1192" x2="1823" y1="96" y2="116"/><line class="j" x1="1192" x2="1823" y1="97" y2="117"/><line class="j" x1="1192" x2="1823" y1="98" y2="114"/><line class="j" x1="1192" x2="1823" y1="99" y2="115"/>
<line class="l" x1="1192" x2="1823" y1="113" y2="32"/><line class="l" x1="1192" x2="1823" y1="114" y2="33"/>
<line class="m" x1="1192" x2="1823" y1="122" y2="65"/><line class="m" x1="1192" x2="1823" y1="123" y2="66"/><line class="m" x1="1192" x2="1823" y1="124" y2="109"/><line class="m" x1="1192" x2="1823" y1="125" y2="110"/><line class="m" x1="1192" x2="1823" y1="126" y2="126"/><line class="m" x1="1192" x2="1823" y1="127" y2="127"/>
<line class="n" x1="1192" x2="1823" y1="132" y2="62"/><line class="n" x1="1192" x2="1823" y1="133" y2="63"/><line class="n" x1="1192" x2="1823" y1="134" y2="64"/><line class="n" x1="1192" x2="1823" y1="135" y2="122"/>
<line class="o" x1="1192" x2="1823" y1="138" y2="53"/><line class="o" x1="1192" x2="1823" y1="139" y2="54"/><line class="p" x1="1192" x2="1823" y1="150" y2="146"/>
<line class="q" x1="1192" x2="1823" y1="155" y2="148"/><line class="q" x1="1192" x2="1823" y1="156" y2="149"/>
<line class="r" x1="1192" x2="1823" y1="158" y2="11"/><line class="r" x1="1192" x2="1823" y1="159" y2="12"/><line class="r" x1="1192" x2="1823" y1="160" y2="183"/><line class="r" x1="1192" x2="1823" y1="161" y2="184"/>
<line class="s" x1="1192" x2="1823" y1="167" y2="185"/><line class="s" x1="1192" x2="1823" y1="168" y2="186"/>
<line class="t" x1="1192" x2="1823" y1="175" y2="151"/><line class="t" x1="1192" x2="1823" y1="176" y2="174"/>
<line class="u" x1="1192" x2="1823" y1="178" y2="102"/><line class="u" x1="1192" x2="1823" y1="179" y2="103"/>
<line class="v" x1="1192" x2="1823" y1="188" y2="181"/><line class="v" x1="1192" x2="1823" y1="189" y2="182"/>
</g>
</svg>
